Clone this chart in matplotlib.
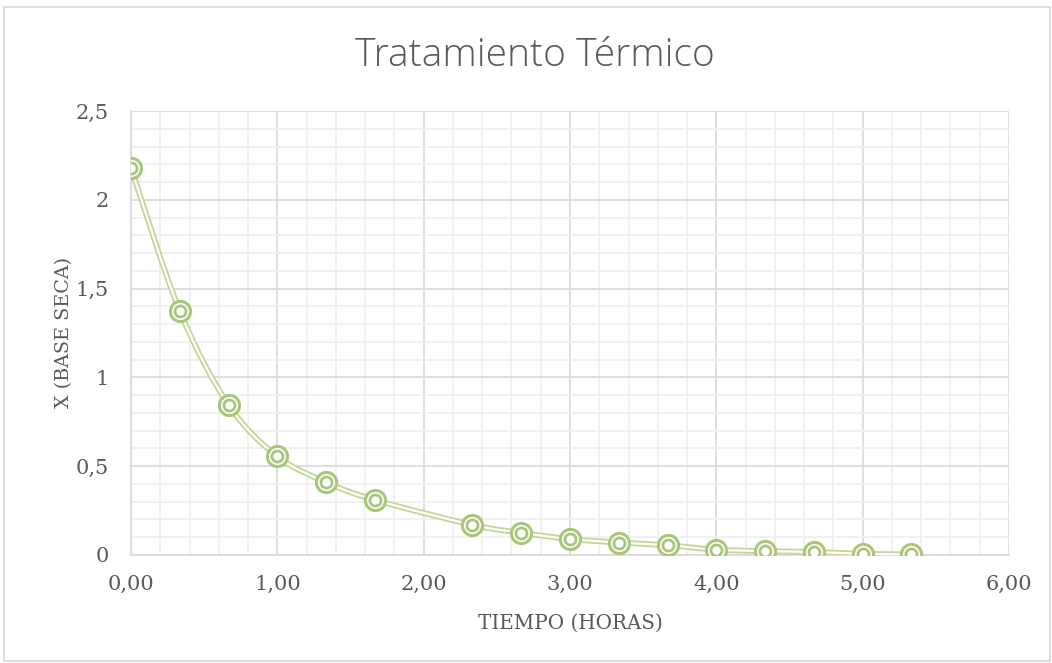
import numpy as np
import matplotlib.pyplot as plt
from matplotlib.path import Path
from matplotlib.patches import PathPatch, Rectangle
from matplotlib.ticker import MultipleLocator, FuncFormatter

# data
tiempo = [0.0, 0.333, 0.667, 1.0, 1.333, 1.667, 2.333, 2.667, 3.0,
          3.333, 3.667, 4.0, 4.333, 4.667, 5.0, 5.333]
x_bs = [2.18, 1.375, 0.845, 0.555, 0.41, 0.31, 0.17, 0.125, 0.09,
        0.07, 0.055, 0.03, 0.022, 0.017, 0.007, 0.003]

title = 'Tratamiento Térmico'
xlabel = 'TIEMPO (HORAS)'
ylabel = 'X (BASE SECA)'

green_line = '#c3d69b'
green_mark = '#a9c67a'
gray_txt = '#595959'


# smooth curve like Excel: cubic bezier segments, catmull-rom style handles
def smooth_path(xs, ys, t=1/6):
    xs = np.asarray(xs); ys = np.asarray(ys)
    n = len(xs)
    verts = [(xs[0], ys[0])]
    codes = [Path.MOVETO]
    for i in range(n - 1):
        p0 = max(i - 1, 0); p3 = min(i + 2, n - 1)
        c1 = (xs[i] + (xs[i+1] - xs[p0]) * t, ys[i] + (ys[i+1] - ys[p0]) * t)
        c2 = (xs[i+1] - (xs[p3] - xs[i]) * t, ys[i+1] - (ys[p3] - ys[i]) * t)
        verts += [c1, c2, (xs[i+1], ys[i+1])]
        codes += [Path.CURVE4] * 3
    return Path(verts, codes)


fig = plt.figure(figsize=(10.52, 6.63), dpi=100)
fig.patches.append(Rectangle((0.004, 0.003), 0.994, 0.986, transform=fig.transFigure,
                             fill=False, edgecolor='#d9d9d9', linewidth=1.2))
ax = fig.add_axes([131/1052, 1 - 555/663, 878/1052, 444/663])

# double line: wide green underneath, thin white on top
path = smooth_path(tiempo, x_bs)
ax.add_patch(PathPatch(path, facecolor='none', edgecolor=green_line, lw=4.2, zorder=3))
ax.add_patch(PathPatch(path, facecolor='none', edgecolor='white', lw=1.6, zorder=3))

ax.plot(tiempo, x_bs, ls='none', marker='o', ms=14.5, mfc='white', mec=green_mark,
        mew=2.2, zorder=4)
ax.plot(tiempo, x_bs, ls='none', marker='o', ms=8.0, mfc='none', mec=green_mark,
        mew=2.0, zorder=5)

ax.set_xlim(0, 6)
ax.set_ylim(0, 2.5)
ax.xaxis.set_major_locator(MultipleLocator(1))
ax.xaxis.set_minor_locator(MultipleLocator(0.2))
ax.yaxis.set_major_locator(MultipleLocator(0.5))
ax.yaxis.set_minor_locator(MultipleLocator(0.1))
ax.xaxis.set_major_formatter(FuncFormatter(lambda v, p: f'{v:.2f}'.replace('.', ',')))
ax.yaxis.set_major_formatter(FuncFormatter(lambda v, p: f'{v:g}'.replace('.', ',')))

ax.grid(which='major', color='#d9d9d9', lw=1.2)
ax.grid(which='minor', color='#efefef', lw=1.2)
ax.set_axisbelow(True)
for s in ['top', 'right']:
    ax.spines[s].set_visible(False)
for s in ['left', 'bottom']:
    ax.spines[s].set_color('#d9d9d9')
    ax.spines[s].set_linewidth(1.2)
ax.tick_params(which='both', length=0, labelcolor=gray_txt, labelsize=15)
ax.tick_params(axis='x', pad=14)
ax.tick_params(axis='y', pad=16)
for lab in ax.get_xticklabels() + ax.get_yticklabels():
    lab.set_family('DejaVu Serif')

ax.set_xlabel(xlabel, fontsize=14.3, family='DejaVu Serif', color=gray_txt, labelpad=15)
ax.set_ylabel(ylabel, fontsize=13.8, family='DejaVu Serif', color=gray_txt, labelpad=2)
fig.text(535/1052, 1 - 56/663, title, ha='center', va='center', fontsize=28,
         color=gray_txt, family='Open Sans', fontweight='light')

fig.savefig('out.png', dpi=100)
